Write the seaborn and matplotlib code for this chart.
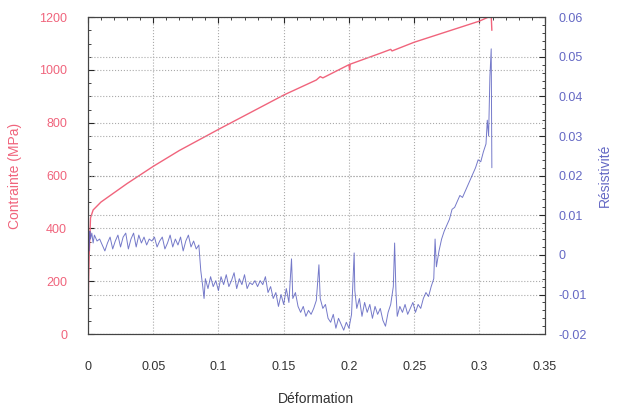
import numpy as np
import pandas as pd
import seaborn as sns
import matplotlib.pyplot as plt
from matplotlib.ticker import MultipleLocator

# Courbe contrainte - deformation
deform_c = [0.0, 0.0005, 0.001, 0.002, 0.004, 0.01, 0.02, 0.03, 0.05, 0.07, 0.1, 0.125,
            0.15, 0.175, 0.178, 0.18, 0.2, 0.2005, 0.201, 0.225, 0.232, 0.233, 0.25, 0.275,
            0.3, 0.309, 0.3095]
contrainte = [0, 200, 300, 440, 470, 500, 535, 570, 635, 695, 775, 840,
              905, 962, 975, 970, 1020, 1000, 1022, 1065, 1078, 1072, 1105, 1145,
              1185, 1205, 1150]

# Courbe resistivite - deformation
deform_r = [0.0, 0.0005, 0.001, 0.0015, 0.002, 0.003, 0.004, 0.005, 0.007, 0.009, 0.011,
            0.013, 0.015, 0.017, 0.019, 0.021, 0.023, 0.025, 0.027, 0.029, 0.031, 0.033,
            0.035, 0.037, 0.039, 0.041, 0.043, 0.045, 0.047, 0.049, 0.051, 0.053, 0.055,
            0.057, 0.059, 0.061, 0.063, 0.065, 0.067, 0.069, 0.071, 0.073, 0.075, 0.077,
            0.079, 0.081, 0.083, 0.085, 0.0865, 0.088, 0.089, 0.090, 0.092, 0.094, 0.096,
            0.098, 0.100, 0.102, 0.104, 0.106, 0.108, 0.110, 0.112, 0.114, 0.116, 0.118,
            0.120, 0.122, 0.124, 0.126, 0.128, 0.130, 0.132, 0.134, 0.136, 0.138, 0.140,
            0.142, 0.144, 0.146, 0.148, 0.150, 0.152, 0.154, 0.156, 0.157, 0.159, 0.161,
            0.163, 0.165, 0.167, 0.169, 0.171, 0.173, 0.175, 0.177, 0.178, 0.180, 0.182,
            0.184, 0.186, 0.188, 0.190, 0.192, 0.194, 0.196, 0.198, 0.200, 0.202, 0.204,
            0.2045, 0.206, 0.208, 0.210, 0.212, 0.214, 0.216, 0.218, 0.220, 0.222, 0.224,
            0.226, 0.228, 0.230, 0.232, 0.234, 0.235, 0.236, 0.237, 0.239, 0.241, 0.243,
            0.245, 0.247, 0.249, 0.251, 0.253, 0.255, 0.257, 0.259, 0.261, 0.263, 0.265,
            0.266, 0.267, 0.269, 0.271, 0.273, 0.275, 0.277, 0.279, 0.281, 0.283, 0.285,
            0.287, 0.289, 0.291, 0.293, 0.295, 0.297, 0.299, 0.301, 0.303, 0.305, 0.306,
            0.307, 0.308, 0.309, 0.3095]
resistivite = [-0.002, 0.005, 0.001, 0.006, 0.004, 0.0055, 0.003, 0.005, 0.0035, 0.004, 0.0025,
               0.001, 0.003, 0.0045, 0.0015, 0.0035, 0.005, 0.002, 0.0045, 0.0055, 0.0015, 0.004,
               0.0055, 0.002, 0.005, 0.003, 0.0045, 0.0025, 0.004, 0.0035, 0.0045, 0.002, 0.0035,
               0.0045, 0.0015, 0.003, 0.005, 0.002, 0.004, 0.0025, 0.0045, 0.001, 0.0035, 0.005,
               0.002, 0.0035, 0.0015, 0.0025, -0.004, -0.008, -0.011, -0.006, -0.0085, -0.0055, -0.008,
               -0.0065, -0.009, -0.0055, -0.0075, -0.005, -0.008, -0.0065, -0.0045, -0.0085, -0.006, -0.0075,
               -0.005, -0.0085, -0.007, -0.0075, -0.0065, -0.008, -0.0065, -0.0075, -0.0055, -0.0095, -0.008,
               -0.011, -0.0095, -0.013, -0.01, -0.0125, -0.0085, -0.012, -0.001, -0.011, -0.0095, -0.013,
               -0.0145, -0.013, -0.0155, -0.014, -0.015, -0.0135, -0.0115, -0.0025, -0.011, -0.0135, -0.0125,
               -0.016, -0.017, -0.015, -0.0185, -0.016, -0.0175, -0.019, -0.017, -0.0185, -0.015, 0.0005,
               -0.009, -0.0135, -0.011, -0.0155, -0.012, -0.0145, -0.0125, -0.016, -0.013, -0.015, -0.0135,
               -0.0165, -0.018, -0.0145, -0.0125, -0.008, 0.003, -0.009, -0.0155, -0.013, -0.0145, -0.0125,
               -0.015, -0.0135, -0.012, -0.0145, -0.0125, -0.0135, -0.011, -0.0095, -0.0105, -0.008, -0.006,
               0.004, -0.003, 0.001, 0.004, 0.006, 0.0075, 0.009, 0.0115, 0.012, 0.0135, 0.015,
               0.0145, 0.016, 0.0175, 0.019, 0.0205, 0.022, 0.024, 0.0235, 0.026, 0.028, 0.034,
               0.030, 0.045, 0.052, 0.022]

x_ticks = [0, 0.05, 0.1, 0.15, 0.2, 0.25, 0.3, 0.35]
y1_ticks = [0, 200, 400, 600, 800, 1000, 1200]
y2_ticks = [-0.02, -0.01, 0, 0.01, 0.02, 0.03, 0.04, 0.05, 0.06]

rouge = '#f0647c'
bleu = '#5258bc'
bleu_txt = '#6468c4'

sns.set_style('white')
plt.rcParams['font.family'] = ['Liberation Sans', 'DejaVu Sans']

fig = plt.figure(figsize=(6.19, 4.08), dpi=100)
ax1 = fig.add_axes([0.142, 0.181, 0.738, 0.777])

df_c = pd.DataFrame({'Deformation': deform_c, 'Contrainte': contrainte})
df_r = pd.DataFrame({'Deformation': deform_r, 'Resistivite': resistivite})

sns.lineplot(data=df_c, x='Deformation', y='Contrainte', ax=ax1, sort=False,
             estimator=None, color=rouge, linewidth=1.0)
ax1.set_xlim(0, 0.35)
ax1.set_ylim(0, 1200)
ax1.set_xticks(x_ticks)
ax1.set_xticklabels([f'{t:g}' for t in x_ticks])
ax1.set_yticks(y1_ticks)
ax1.xaxis.set_minor_locator(MultipleLocator(0.01))
ax1.yaxis.set_minor_locator(MultipleLocator(50))
ax1.tick_params(axis='x', which='both', direction='in', top=True, pad=19,
                labelsize=9, labelcolor='#333333')
ax1.tick_params(axis='y', which='both', direction='in', pad=15, labelsize=9,
                labelcolor=rouge)
ax1.tick_params(which='major', length=4, width=0.8)
ax1.tick_params(which='minor', length=2, width=0.6)
ax1.grid(True, which='major', linestyle=':', color='#aaaaaa', linewidth=0.8)
ax1.set_xlabel('Déformation', fontsize=10, color='#333333', labelpad=14)
ax1.set_ylabel('Contrainte (MPa)', fontsize=10, color=rouge, labelpad=12)

ax2 = ax1.twinx()
sns.lineplot(data=df_r, x='Deformation', y='Resistivite', ax=ax2, sort=False,
             estimator=None, color=bleu, linewidth=0.7, alpha=0.8)
ax2.set_ylim(-0.02, 0.06)
ax2.set_yticks(y2_ticks)
ax2.set_yticklabels([f'{t:g}' for t in y2_ticks])
ax2.yaxis.set_minor_locator(MultipleLocator(0.002))
ax2.tick_params(axis='y', which='both', direction='in', pad=10, labelsize=9,
                labelcolor=bleu_txt)
ax2.tick_params(which='major', length=4, width=0.8)
ax2.tick_params(which='minor', length=2, width=0.6)
ax2.grid(True, which='major', axis='y', linestyle=':', color='#aaaaaa', linewidth=0.8)
ax2.set_ylabel('Résistivité', fontsize=10, color=bleu_txt, labelpad=8)
ax2.set_xlabel('')

for ax in (ax1, ax2):
    for s in ax.spines.values():
        s.set_color('#444444')
        s.set_linewidth(0.8)

plt.savefig('out.png', dpi=100)
